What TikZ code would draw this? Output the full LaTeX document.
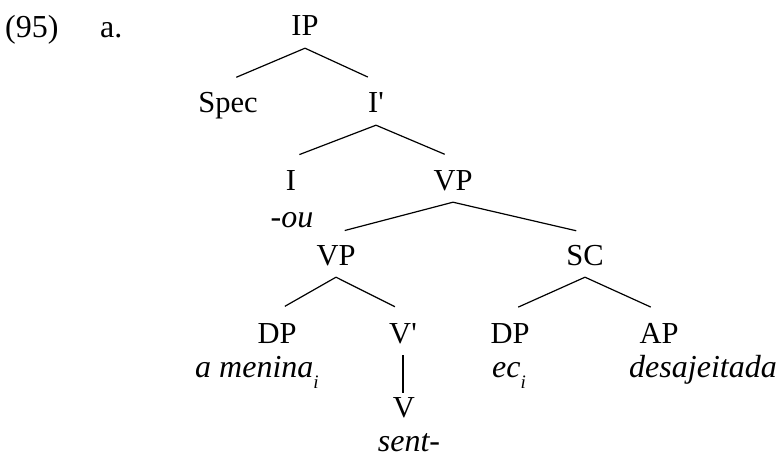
\documentclass[tikz,border=0pt]{standalone}
\usepackage{fontspec}
\setmainfont{Liberation Serif}
\usetikzlibrary{positioning}
\newcommand{\coidx}[1]{\raisebox{-11pt}{\fontsize{19}{20}\selectfont #1}}
\newcommand{\barmark}{\textquotesingle}

\begin{document}
\begin{tikzpicture}[x=1pt, y=-1pt,
	cat/.style={font=\fontsize{30.5}{36}\selectfont, anchor=base, text height=20pt, text depth=0pt, inner xsep=1pt, inner ysep=12pt},
	word/.style={font=\fontsize{32}{38}\selectfont\itshape, inner sep=0pt},
	branch/.style={line width=1.2pt, shorten >=9pt}]
	
	% Set the bounding box to the size of the page
	\useasboundingbox (0,0) rectangle (784,457);
	
	% --- Example number ---
	\node[anchor=base west, font=\fontsize{32}{38}\selectfont, inner sep=0pt] (exnum) at (5,38) {(95)};
	\node[anchor=base west, font=\fontsize{32}{38}\selectfont, inner sep=0pt] (exlet) at (100,38) {a.};
	
	% --- Categories ---
	\node[cat] (ip) at (305,36) {IP};
	\node[cat] (spec) at (228,113) {Spec};
	\node[cat] (ibar) at (376,113) {I\barmark};
	\node[cat] (infl) at (291,190) {I};
	\node[cat] (vp) at (453,190) {VP};
	\node[cat] (vplow) at (336,265) {VP};
	\node[cat] (sc) at (585,265) {SC};
	\node[cat] (dpsubj) at (277,343) {DP};
	\node[cat] (vbar) at (403,343) {V\barmark};
	\node[cat] (dpsc) at (510,343) {DP};
	\node[cat] (ap) at (659,343) {AP};
	\node[cat, inner ysep=4pt] (verb) at (404,417) {V};
	
	% --- Words ---
	\node[word, anchor=base] (ou) at (292,227) {-ou};
	\node[word, anchor=base west] (menina) at (195,377) {a menina\coidx{i}};
	\node[word, anchor=base west] (ec) at (492,377) {ec\coidx{i}};
	\node[word, anchor=base] (desaj) at (703,377) {desajeitada};
	\node[word, anchor=base] (sent) at (409,451) {sent-};
	
	% --- Branches ---
	\draw[branch] (ip.south) -- (spec.north);
	\draw[branch] (ip.south) -- (ibar.north);
	\draw[branch] (ibar.south) -- (infl.north);
	\draw[branch] (ibar.south) -- (vp.north);
	\draw[branch] (vp.south) -- (vplow.north);
	\draw[branch] (vp.south) -- (sc.north);
	\draw[branch] (vplow.south) -- (dpsubj.north);
	\draw[branch] (vplow.south) -- (vbar.north);
	\draw[branch] (sc.south) -- (dpsc.north);
	\draw[branch] (sc.south) -- (ap.north);
	\draw[line width=1.2pt] (vbar.south) -- (vbar.south |- verb.north);
\end{tikzpicture}
\end{document}
